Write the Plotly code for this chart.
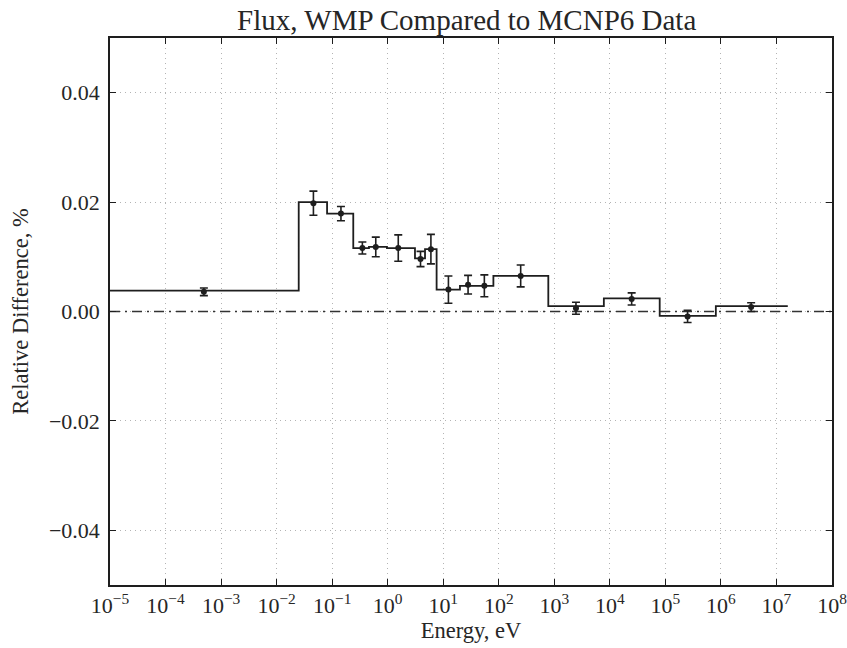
import plotly.graph_objects as go

# Energy group edges (eV) and the relative difference in each group
bin_edges = [1e-5, 0.025, 0.081, 0.24, 0.46, 0.97, 3.1, 4.7, 7.6, 20, 39, 80,
             780, 7800, 79000, 8.1e5, 1.6e7]
bin_values = [0.0038, 0.0200, 0.0179, 0.0116, 0.0118, 0.0116, 0.0097, 0.0114,
              0.0040, 0.0047, 0.0047, 0.0065, 0.0010, 0.0024, -0.0008, 0.0010]

# Tally points with their statistical uncertainty
point_energy = [4.9e-4, 0.046, 0.144, 0.35, 0.61, 1.55, 3.9, 6.0, 12.4, 28, 55,
                248, 2455, 24700, 2.51e5, 3.5e6]
point_value = [0.0036, 0.0198, 0.0179, 0.0116, 0.0118, 0.0116, 0.0096, 0.0114,
               0.0040, 0.0049, 0.0047, 0.0065, 0.0006, 0.0023, -0.0009, 0.0008]
point_error = [0.0007, 0.0022, 0.0013, 0.0011, 0.0018, 0.0024, 0.0014, 0.0027,
               0.0025, 0.0017, 0.0020, 0.0020, 0.0011, 0.0011, 0.0011, 0.0008]

x_tick_exponents = list(range(-5, 9))
y_tick_values = [-0.04, -0.02, 0.0, 0.02, 0.04]

ink = "#1e1e1e"
text_color = "#262626"
font_family = "Liberation Serif"

fig = go.Figure()

# Zero reference line
fig.add_trace(go.Scatter(
    x=[1e-5, 1e8], y=[0, 0], mode="lines",
    line=dict(color="#333333", width=1.5, dash="10px,5px,2px,5px"),
    hoverinfo="skip", showlegend=False,
))

# Group-wise step curve
fig.add_trace(go.Scatter(
    x=bin_edges, y=bin_values + [bin_values[-1]], mode="lines",
    line=dict(color=ink, width=1.8, shape="hv"),
    showlegend=False,
))

# Points with error bars
fig.add_trace(go.Scatter(
    x=point_energy, y=point_value, mode="markers",
    marker=dict(color=ink, size=6),
    error_y=dict(type="data", array=point_error, visible=True,
                 color=ink, thickness=1.6, width=4),
    showlegend=False,
))

axis_common = dict(
    showline=True, linecolor=ink, linewidth=1.5, mirror="ticks",
    ticks="inside", ticklen=6, tickcolor=ink,
    showgrid=True, gridcolor="#b4b4b4", griddash="1px,4px", gridwidth=1.2,
    zeroline=False, automargin=False, ticklabeloverflow="allow",
    tickfont=dict(family=font_family, size=22, color=text_color),
)

fig.update_xaxes(
    type="log", range=[-5, 8],
    tickvals=[10.0 ** e for e in x_tick_exponents],
    ticktext=[f"10<sup>{str(e).replace('-', '−')}</sup>" for e in x_tick_exponents],
    title=dict(text="Energy, eV", font=dict(family=font_family, size=22.5, color=text_color),
               standoff=4),
    **axis_common,
)
fig.update_yaxes(
    range=[-0.05, 0.05],
    tickvals=y_tick_values, tickformat=".2f", ticklabelstandoff=4,
    title=dict(text="Relative Difference, %",
               font=dict(family=font_family, size=22.5, color=text_color), standoff=14),
    **axis_common,
)

fig.update_layout(
    width=847, height=648,
    margin=dict(l=110, r=15, t=38, b=63),
    paper_bgcolor="white", plot_bgcolor="white",
    title=dict(text="Flux, WMP Compared to MCNP6 Data", x=0.551, xanchor="center",
               y=0.969, yanchor="middle",
               font=dict(family=font_family, size=29, color=text_color)),
)

fig.write_html("out.html")
